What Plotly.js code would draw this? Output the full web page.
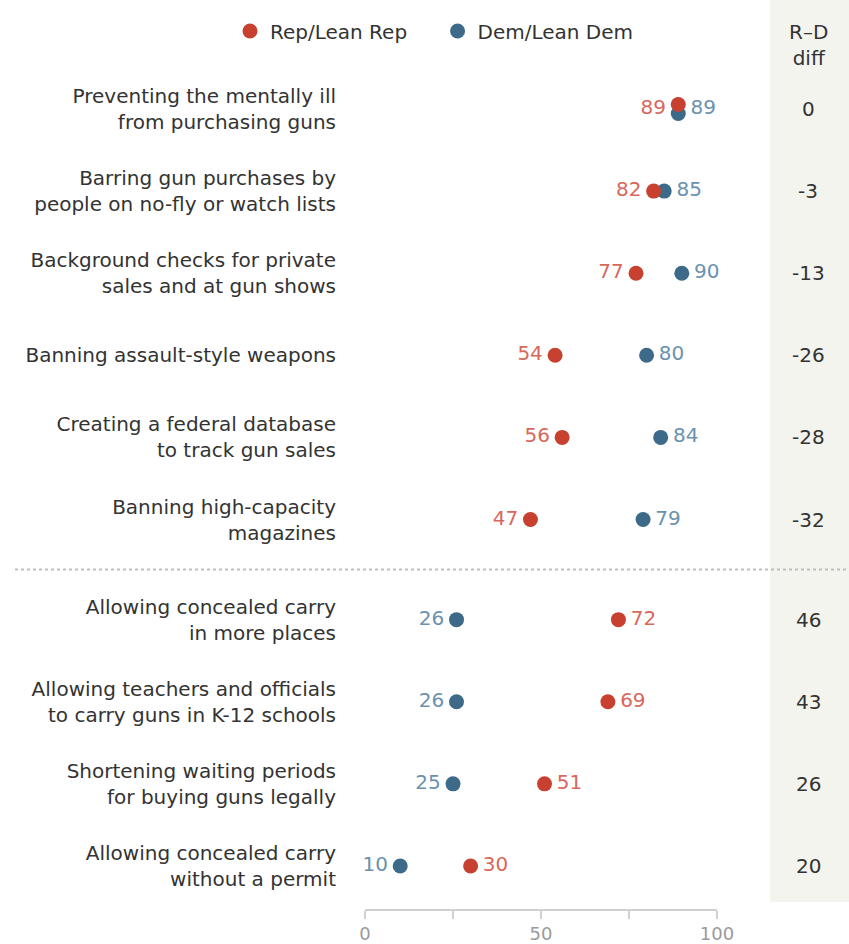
<!DOCTYPE html>
<html>
<head>
<meta charset="utf-8">
<script src="https://cdn.plot.ly/plotly-3.0.1.min.js"></script>
<style>html,body{margin:0;padding:0;background:#fff;}#chart{width:849px;height:944px;}</style>
</head>
<body>
<div id="chart"></div>
<script>
const categories = [
  "Preventing the mentally ill<br>from purchasing guns",
  "Barring gun purchases by<br>people on no-fly or watch lists",
  "Background checks for private<br>sales and at gun shows",
  "Banning assault-style weapons",
  "Creating a federal database<br>to track gun sales",
  "Banning high-capacity<br>magazines",
  "Allowing concealed carry<br>in more places",
  "Allowing teachers and officials<br>to carry guns in K-12 schools",
  "Shortening waiting periods<br>for buying guns legally",
  "Allowing concealed carry<br>without a permit"
];
const repValues = [89, 82, 77, 54, 56, 47, 72, 69, 51, 30];
const demValues = [89, 85, 90, 80, 84, 79, 26, 26, 25, 10];
const groupSizes = [6, 4];
const xTickVals = [0, 25, 50, 75, 100];
const xTickText = ["0", "", "50", "", "100"];

const FONT = "DejaVu Sans, Liberation Sans, Arial, sans-serif";
const RED = "#c8402f", RED_T = "#d8675c";
const BLUE = "#3e6a89", BLUE_T = "#6a92ae";

// row positions: uniform spacing with extra gap between groups
const GAP = 0.22;
const pos = categories.map((c, i) => i + (i >= groupSizes[0] ? GAP : 0));
const diffs = repValues.map((r, i) => r - demValues[i]);
const nudge = repValues.map((r, i) => r === demValues[i] ? 0.055 : 0);

const repPos = repValues.map((r, i) => r <= demValues[i] ? "middle left" : "middle right");
const demPos = repValues.map((r, i) => r <= demValues[i] ? "middle right" : "middle left");

const NB = "\u00a0";
const traces = [
  {type: "scatter", mode: "markers", name: "Dem/Lean Dem", legendrank: 2,
   x: demValues, y: pos.map((p, i) => p + nudge[i]),
   marker: {size: 15, color: BLUE}, cliponaxis: false, hoverinfo: "x"},
  {type: "scatter", mode: "markers", name: "Rep/Lean Rep" + NB.repeat(4), legendrank: 1,
   x: repValues, y: pos.map((p, i) => p - nudge[i]),
   marker: {size: 15, color: RED}, cliponaxis: false, hoverinfo: "x"},
  {type: "scatter", mode: "markers+text", showlegend: false,
   x: demValues, y: pos, text: demValues.map(String), textposition: demPos,
   textfont: {family: FONT, size: 20, color: BLUE_T},
   marker: {size: 18, opacity: 0}, cliponaxis: false, hoverinfo: "skip"},
  {type: "scatter", mode: "markers+text", showlegend: false,
   x: repValues, y: pos, text: repValues.map(String), textposition: repPos,
   textfont: {family: FONT, size: 20, color: RED_T},
   marker: {size: 18, opacity: 0}, cliponaxis: false, hoverinfo: "skip"}
];

const L = 365, R = 132, T = 0, B = 35, W = 849, H = 944;
const pw = W - L - R, ph = H - T - B;
const px2x = px => (px - L) / pw;
const py2y = py => (H - B - py) / ph;
const sepY = (pos[groupSizes[0] - 1] + pos[groupSizes[0]]) / 2;
const ROW_PX = 82.1;
const yTop = pos[0] - 109 / ROW_PX;
const yBot = pos[0] + (H - B - 109) / ROW_PX;

const annotations = diffs.map((d, i) => ({
  xref: "paper", yref: "y", x: px2x(808), y: pos[i], text: String(d),
  showarrow: false, xanchor: "center", yanchor: "middle",
  font: {family: FONT, size: 20, color: "#333"}
}));
annotations.push({
  xref: "paper", yref: "paper", x: px2x(808), y: py2y(45), text: "R–D<br>diff",
  showarrow: false, xanchor: "center", yanchor: "middle",
  font: {family: FONT, size: 20, color: "#333"}
});

const layout = {
  width: W, height: H,
  margin: {l: L, r: R, t: T, b: B, pad: 0},
  paper_bgcolor: "#fff", plot_bgcolor: "rgba(0,0,0,0)",
  font: {family: FONT, size: 20, color: "#333"},
  showlegend: true,
  legend: {orientation: "h", x: px2x(230), y: py2y(31), xanchor: "left", yanchor: "middle",
           font: {family: FONT, size: 20, color: "#333"}, bgcolor: "rgba(0,0,0,0)",
           itemwidth: 30, tracegroupgap: 0},
  xaxis: {range: [0, 100], tickvals: xTickVals, ticktext: xTickText,
          ticks: "outside", ticklen: 8, tickcolor: "#cfcfcf", tickwidth: 1.5,
          showline: true, linecolor: "#cfcfcf", linewidth: 1.5,
          showgrid: false, zeroline: false, fixedrange: true,
          tickfont: {family: FONT, size: 18, color: "#9a9a9a"}},
  yaxis: {range: [yBot, yTop], tickvals: pos, ticktext: categories,
          ticks: "", showline: false, showgrid: false, zeroline: false, fixedrange: true,
          ticklabelstandoff: 28,
          tickfont: {family: FONT, size: 20, color: "#333"}},
  shapes: [
    {type: "rect", xref: "paper", yref: "paper", layer: "below",
     x0: px2x(770), x1: px2x(860), y0: py2y(902), y1: py2y(-10),
     fillcolor: "#f4f4ef", line: {width: 0}},
    {type: "line", xref: "paper", yref: "y", layer: "below",
     x0: px2x(15), x1: px2x(860), y0: sepY, y1: sepY,
     line: {color: "#bdbdbd", width: 2, dash: "dot"}}
  ],
  annotations: annotations
};

Plotly.newPlot("chart", traces, layout, {displayModeBar: false, staticPlot: true});
</script>
</body>
</html>
